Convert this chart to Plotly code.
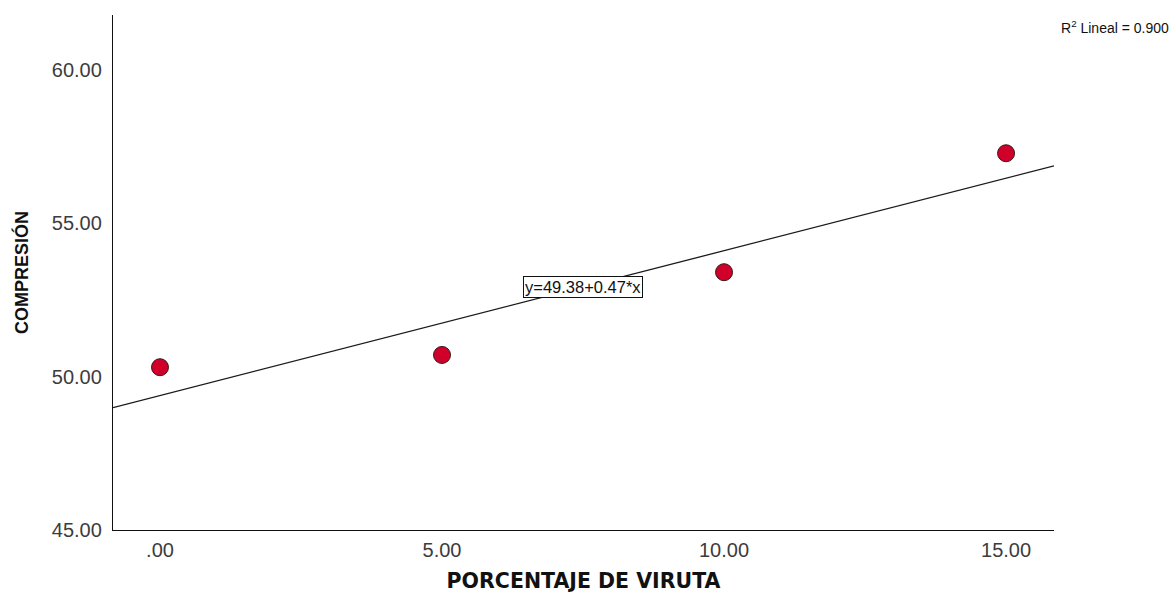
import numpy as np
import plotly.graph_objects as go

# Porcentaje de viruta vs resistencia a la compresión
porcentaje = [0, 5, 10, 15]
compresion = [50.31, 50.71, 53.41, 57.29]
x_ticks = [0, 5, 10, 15]
x_tick_text = [".00", "5.00", "10.00", "15.00"]
y_ticks = [45, 50, 55, 60]
y_tick_text = ["45.00", "50.00", "55.00", "60.00"]

x_range = [-0.833, 15.85]
y_range = [45, 61.8]

# Ajuste lineal por mínimos cuadrados
slope, intercept = np.polyfit(porcentaje, compresion, 1)
pred = np.polyval([slope, intercept], porcentaje)
ss_res = np.sum((np.array(compresion) - pred) ** 2)
ss_tot = np.sum((np.array(compresion) - np.mean(compresion)) ** 2)
r2 = 1 - ss_res / ss_tot
fit_x = np.array(x_range)
fit_y = intercept + slope * fit_x

fig = go.Figure()
fig.add_trace(go.Scatter(
    x=fit_x, y=fit_y, mode="lines",
    line=dict(color="#1a1a1a", width=1.3),
    hoverinfo="skip", showlegend=False, cliponaxis=False,
))
fig.add_trace(go.Scatter(
    x=porcentaje, y=compresion, mode="markers",
    marker=dict(size=17, color="#d0002a", line=dict(color="#3a1a1a", width=1)),
    showlegend=False,
))

fig.add_annotation(
    x=float(np.mean(porcentaje)), y=float(np.mean(compresion)),
    text=f"y={intercept:.2f}+{slope:.2f}*x", showarrow=False,
    font=dict(family="Liberation Sans, Arial", size=16.5, color="#111"),
    bgcolor="white", bordercolor="#111", borderwidth=1, borderpad=1,
)
fig.add_annotation(
    xref="paper", yref="paper", x=1.1245, y=0.977, xanchor="right", yanchor="middle",
    text=f"R<sup>2</sup> Lineal = {r2:.3f}", showarrow=False,
    font=dict(family="Liberation Sans, Arial", size=14, color="#111"),
)

axis_font = dict(family="Liberation Sans, Arial", size=20, color="#3c3c3c")

fig.update_xaxes(
    range=x_range, tickvals=x_ticks, ticktext=x_tick_text,
    showgrid=False, zeroline=False, showline=True, linecolor="#111", linewidth=1.3,
    ticks="", tickfont=axis_font, ticklabelstandoff=2, automargin=False,
    title=dict(text="<b>PORCENTAJE DE VIRUTA</b>",
               font=dict(family="DejaVu Sans, Liberation Sans", size=20.5, color="#111"),
               standoff=22),
)
fig.update_yaxes(
    range=y_range, tickvals=y_ticks, ticktext=y_tick_text,
    showgrid=False, zeroline=False, showline=True, linecolor="#111", linewidth=1.3,
    ticks="", tickfont=axis_font, ticklabelstandoff=6, automargin=False,
    title=dict(text="<b>COMPRESIÓN</b>",
               font=dict(family="Liberation Sans, Arial", size=18, color="#111"),
               standoff=18),
)

fig.update_layout(
    width=1170, height=593,
    margin=dict(l=113, r=116, t=15, b=63),
    plot_bgcolor="white", paper_bgcolor="white",
)

fig.write_html("out.html")
